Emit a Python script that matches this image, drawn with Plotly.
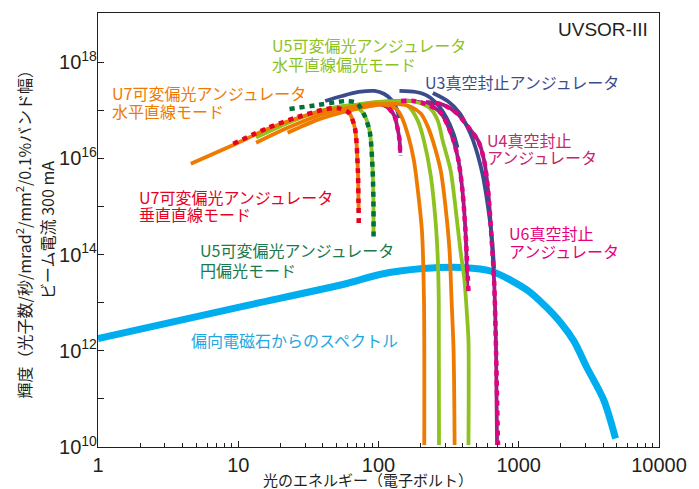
import plotly.graph_objects as go

# Photon energy (eV) vs brightness (photons/s/mrad^2/mm^2/0.1% bw at 300 mA)

# Bending magnet
bm_ev = [1, 10, 59.5, 102, 207, 397, 646, 1156, 1525, 2010, 2480, 3060, 4040, 4900]
bm_b = [1.8e12, 8.0e12, 2.5e13, 3.85e13, 5.1e13, 5.4e13, 4.45e13, 1.8e13, 8.8e12,
        3.7e12, 1.57e12, 4.5e11, 9.4e10, 1.5e10]

# U7 variable-polarization undulator, horizontal linear (1st, 3rd, 5th harmonics)
u7h1_ev = [4.59, 9.22, 16.3, 26.5, 39.7, 50.6, 61.5, 67.8, 71.2, 72.0, 72.3]
u7h1_b = [7.7e15, 1.9e16, 4.1e16, 6.9e16, 9.6e16, 1.06e17, 8.8e16, 4.3e16, 6.1e15, 1.3e15, 7.4e14]
u7h3_ev = [13.4, 22.5, 36.6, 59.5, 89.3, 114, 134, 145, 163, 179, 191, 204, 211, 212]
u7h3_b = [2.1e16, 4.3e16, 7.6e16, 1.11e17, 1.35e17, 1.28e17, 1.06e17, 7.6e16, 2.9e16,
          8.9e15, 2.1e15, 3.1e14, 1.1e13, 1.1e10]
u7h5_ev = [22.5, 36.6, 59.5, 96.8, 134, 171, 201, 225, 244, 278, 301, 321, 332, 343, 349]
u7h5_b = [3.4e16, 6.3e16, 9.6e16, 1.28e17, 1.35e17, 1.17e17, 8.4e16, 4.5e16, 2.3e16,
          5.5e15, 9.4e14, 1.21e14, 1.1e13, 1.02e12, 1.1e10]

# U7 vertical linear
u7v_ev = [9.22, 16.3, 26.5, 39.7, 50.6, 61.5, 67.8, 71.2, 72.0, 72.3]
u7v_b = [2.0e16, 4.3e16, 7.2e16, 1.01e17, 1.11e17, 8.8e16, 4.3e16, 6.1e15, 1.3e15, 4.0e14]

# U5 variable-polarization undulator, horizontal linear (1st, 3rd, 5th)
u5h1_ev = [13.4, 22.5, 36.6, 54.9, 66.7, 78.4, 86.4, 90.7, 92.0, 92.2]
u5h1_b = [2.7e16, 5.4e16, 9.2e16, 1.22e17, 1.22e17, 8.4e16, 3.7e16, 6.1e15, 1.3e15, 3.1e14]
u5h3_ev = [39.7, 59.5, 96.8, 134, 165, 191, 211, 236, 256, 265, 269, 270]
u5h3_b = [8.4e16, 1.17e17, 1.48e17, 1.48e17, 1.17e17, 6.0e16, 2.3e16, 4.3e15, 4.4e14,
          7.5e13, 1.1e13, 1.1e10]
u5h5_ev = [66.7, 96.8, 134, 185, 236, 265, 287, 327, 354, 384, 410, 430, 438, 438]
u5h5_b = [1.28e17, 1.41e17, 1.55e17, 1.48e17, 1.06e17, 6.0e16, 2.3e16, 5.5e15, 9.4e14,
          1.21e14, 2.9e13, 4.3e12, 1.65e12, 1.1e10]

# U5 circular
u5c_ev = [23.2, 36.6, 50.6, 59.5, 70.0, 78.4, 86.4, 90.7, 92.0, 92.2]
u5c_b = [1.06e17, 1.28e17, 1.48e17, 1.55e17, 1.41e17, 8.4e16, 3.7e16, 6.1e15, 1.3e15, 2.2e14]

# U3 in-vacuum undulator
u3a_ev = [41.7, 54.9, 72.3, 93.7, 110, 124, 134, 141]
u3a_b = [1.55e17, 1.97e17, 2.39e17, 2.51e17, 2.17e17, 1.63e17, 1.11e17, 6.9e16]
u3b_ev = [141, 185, 225, 269, 306, 343, 366]
u3b_b = [2.51e17, 2.39e17, 1.97e17, 1.22e17, 6.9e16, 3.2e16, 1.65e16]
u3c_ev = [244, 311, 378, 430, 474, 549, 605, 646, 667]
u3c_b = [2.28e17, 1.55e17, 8.8e16, 4.5e16, 2.3e16, 5.0e15, 9.4e14, 1.95e14, 5.1e13]

# U4 in-vacuum undulator
u4a_ev = [82.3, 100, 118, 130, 136, 141, 143]
u4a_b = [1.35e17, 1.35e17, 1.11e17, 7.6e16, 4.5e16, 2.5e16, 1.30e16]
u4b_ev = [105, 134, 179, 229, 278, 311, 343, 372, 397, 417, 430]
u4b_b = [1.48e17, 1.55e17, 1.55e17, 1.28e17, 8.8e16, 4.9e16, 2.3e16, 8.9e15, 2.1e15, 3.1e14, 2.2e13]
u4c_ev = [218, 292, 366, 430, 514, 567, 605, 635, 667, 689, 700]
u4c_b = [1.48e17, 1.28e17, 8.4e16, 4.7e16, 2.3e16, 8.9e15, 2.1e15, 3.1e14, 2.9e13, 1.02e12, 1.1e10]

# U6 in-vacuum undulator
u6a_ev = [118, 130, 136, 141, 143]
u6a_b = [1.11e17, 7.6e16, 4.5e16, 2.5e16, 1.13e16]
u6b_ev = [145, 179, 229, 278, 311, 343, 372, 397, 417, 438]
u6b_b = [1.55e17, 1.55e17, 1.28e17, 8.8e16, 4.9e16, 2.3e16, 8.9e15, 2.1e15, 3.1e14, 1.7e13]
u6c_ev = [256, 292, 366, 430, 514, 567, 605, 635, 667, 689, 711]
u6c_b = [1.41e17, 1.28e17, 8.4e16, 4.7e16, 2.3e16, 8.9e15, 2.1e15, 3.1e14, 2.9e13, 1.02e12, 1.1e10]

x_tick_vals = [1, 10, 100, 1000, 10000]
x_tick_text = ["1", "10", "100", "1000", "10000"]
y_tick_vals = [1e10, 1e12, 1e14, 1e16, 1e18]
y_tick_text = ["10<sup>10</sup>", "10<sup>12</sup>", "10<sup>14</sup>",
               "10<sup>16</sup>", "10<sup>18</sup>"]
y_minor_vals = [1e11, 1e13, 1e15, 1e17]

ORANGE = "#EF7A00"
RED = "#E60022"
LIME = "#8DC21F"
DKGREEN = "#00703C"
NAVY = "#3B4C8C"
PURPLE = "#9E1F88"
PINK = "#E6007E"
CYAN = "#00AEEF"
INK = "#231F20"

fig = go.Figure()


def add_line(x, y, color, width, dash=None):
    fig.add_trace(go.Scatter(
        x=x, y=y, mode="lines", hoverinfo="skip", showlegend=False,
        line=dict(color=color, width=width, dash=dash, shape="spline", smoothing=0.8),
    ))


add_line(bm_ev, bm_b, CYAN, 7)

for xs, ys in [(u4a_ev, u4a_b), (u4b_ev, u4b_b), (u4c_ev, u4c_b)]:
    add_line(xs, ys, PURPLE, 3.8)
for xs, ys in [(u3a_ev, u3a_b), (u3b_ev, u3b_b), (u3c_ev, u3c_b)]:
    add_line(xs, ys, NAVY, 3.8)
for xs, ys in [(u5h1_ev, u5h1_b), (u5h3_ev, u5h3_b), (u5h5_ev, u5h5_b)]:
    add_line(xs, ys, LIME, 3.8)
for xs, ys in [(u7h1_ev, u7h1_b), (u7h3_ev, u7h3_b), (u7h5_ev, u7h5_b)]:
    add_line(xs, ys, ORANGE, 3.8)

DOT = "5px,5px"
add_line(u5c_ev, u5c_b, DKGREEN, 4.5, DOT)
add_line(u7v_ev, u7v_b, RED, 4.5, DOT)
for xs, ys in [(u6a_ev, u6a_b), (u6b_ev, u6b_b), (u6c_ev, u6c_b)]:
    add_line(xs, ys, PINK, 4.5, DOT)

JP = "Noto Sans CJK JP"
LAT = "Liberation Sans, Arial, sans-serif"

# (text, x_paper, y_paper, color)
labels = [
    ("U5可変偏光アンジュレータ", 0.306, 0.926, LIME),
    ("水平直線偏光モード", 0.306, 0.883, LIME),
    ("U7可変偏光アンジュレータ", 0.021, 0.816, ORANGE),
    ("水平直線モード", 0.021, 0.775, ORANGE),
    ("U3真空封止アンジュレータ", 0.579, 0.841, NAVY),
    ("U4真空封止", 0.690, 0.708, "#C7256F"),
    ("アンジュレータ", 0.690, 0.669, "#C7256F"),
    ("U6真空封止", 0.729, 0.494, PINK),
    ("アンジュレータ", 0.729, 0.451, PINK),
    ("U7可変偏光アンジュレータ", 0.069, 0.575, RED),
    ("垂直直線モード", 0.069, 0.536, RED),
    ("U5可変偏光アンジュレータ", 0.178, 0.453, "#1A7A4C"),
    ("円偏光モード", 0.178, 0.407, "#1A7A4C"),
    ("偏向電磁石からのスペクトル", 0.162, 0.246, "#1FA8E0"),
]
annotations = [
    dict(text=t, x=x, y=y, xref="paper", yref="paper", xanchor="left", yanchor="middle",
         showarrow=False, font=dict(family=JP, size=16, color=c))
    for t, x, y, c in labels
]
annotations.append(dict(text="UVSOR-III", x=0.984, y=0.961, xref="paper", yref="paper",
                        xanchor="right", yanchor="middle", showarrow=False,
                        font=dict(family=LAT, size=19, color=INK)))
annotations.append(dict(text="光のエネルギー（電子ボルト）", x=0.481, y=-0.076,
                        xref="paper", yref="paper", xanchor="center", yanchor="middle",
                        showarrow=False, font=dict(family=JP, size=15, color=INK)))
annotations.append(dict(text="輝度（光子数/秒/mrad<sup>2</sup>/mm<sup>2</sup>/0.1%バンド幅）",
                        x=-0.132, y=0.499, xref="paper", yref="paper", textangle=-90,
                        xanchor="center", yanchor="middle", showarrow=False,
                        font=dict(family=JP, size=16, color=INK)))
annotations.append(dict(text="ビーム電流 300 mA", x=-0.090, y=0.499, xref="paper",
                        yref="paper", textangle=-90, xanchor="center", yanchor="middle",
                        showarrow=False, font=dict(family=JP, size=16, color=INK)))

minor_x = [m * 10 ** d for d in range(4) for m in range(2, 10)]

fig.update_layout(
    width=699, height=489,
    margin=dict(l=98, r=33, t=12, b=42),
    paper_bgcolor="white", plot_bgcolor="white",
    showlegend=False,
    annotations=annotations,
    xaxis=dict(
        type="log", range=[0, 4], tickmode="array", tickvals=x_tick_vals, ticktext=x_tick_text,
        ticks="inside", ticklen=6, tickwidth=1, tickcolor=INK,
        minor=dict(tickmode="array", tickvals=minor_x, ticks="inside", ticklen=4,
                   tickwidth=1, tickcolor=INK, showgrid=False),
        showline=True, linecolor=INK, linewidth=1.2, mirror=True,
        showgrid=False, zeroline=False,
        tickfont=dict(family=LAT, size=20, color=INK),
    ),
    yaxis=dict(
        type="log", range=[10, 19.02], tickmode="array", tickvals=y_tick_vals,
        ticktext=y_tick_text,
        ticks="inside", ticklen=6, tickwidth=1, tickcolor=INK,
        minor=dict(tickmode="array", tickvals=y_minor_vals, ticks="inside", ticklen=6,
                   tickwidth=1, tickcolor=INK, showgrid=False),
        ticklabelstandoff=-4,
        showline=True, linecolor=INK, linewidth=1.2, mirror=True,
        showgrid=False, zeroline=False,
        tickfont=dict(family=LAT, size=20, color=INK),
    ),
)

fig.write_html("out.html")
